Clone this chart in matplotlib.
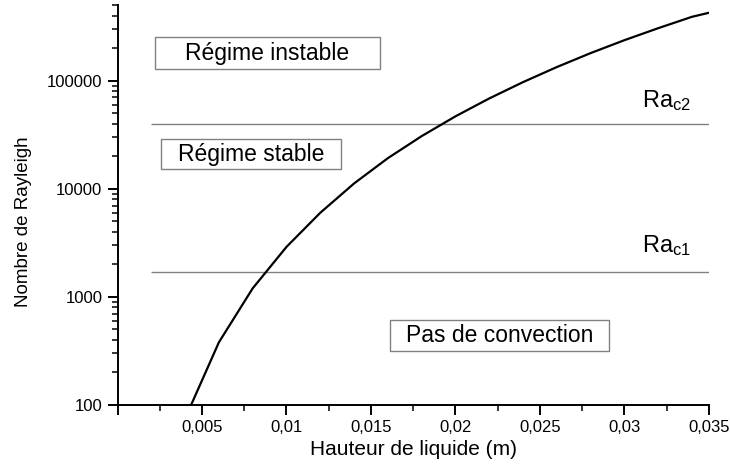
import matplotlib
matplotlib.use("Agg")
import matplotlib.pyplot as plt
from matplotlib.patches import Rectangle
from matplotlib.ticker import FixedLocator, FuncFormatter, LogLocator, NullFormatter

plt.rcParams['font.family'] = ['Liberation Sans', 'DejaVu Sans']
plt.rcParams['mathtext.default'] = 'regular'

# hauteur de liquide (m) et nombre de Rayleigh
hauteur = [0.004, 0.006, 0.008, 0.010, 0.012, 0.014, 0.016, 0.018, 0.020,
           0.022, 0.024, 0.026, 0.028, 0.030, 0.032, 0.034, 0.035]
rayleigh = [75, 380, 1200, 2900, 6000, 11200, 19200, 30700, 46800,
            68500, 97000, 133700, 180000, 237000, 306000, 390000, 425000]

# seuils critiques
ra_c1 = 1708
ra_c2 = 40000
seuil_debut = 0.002

x_ticks = [0, 0.005, 0.01, 0.015, 0.02, 0.025, 0.03, 0.035]

fig = plt.figure(figsize=(7.3, 4.69), dpi=100)
ax = fig.add_axes([0.161, 0.1365, 0.81, 0.8525])

ax.plot(hauteur, rayleigh, color='black', lw=1.6, zorder=3)
ax.hlines([ra_c1, ra_c2], seuil_debut, x_ticks[-1], colors='#808080', lw=1.0)

ax.set_yscale('log')
ax.set_xlim(0, 0.035)
ax.set_ylim(100, 5e5)

ax.xaxis.set_major_locator(FixedLocator(x_ticks))
ax.xaxis.set_minor_locator(FixedLocator([0.0025 + 0.005 * i for i in range(7)]))
ax.xaxis.set_major_formatter(FuncFormatter(
    lambda v, p: '' if v == 0 else ('%g' % v).replace('.', ',')))
ax.yaxis.set_major_locator(LogLocator(base=10))
ax.yaxis.set_minor_locator(LogLocator(base=10, subs=range(2, 10)))
ax.yaxis.set_major_formatter(FuncFormatter(lambda v, p: '%d' % v))
ax.yaxis.set_minor_formatter(NullFormatter())

for s in ['top', 'right']:
    ax.spines[s].set_visible(False)
for s in ['left', 'bottom']:
    ax.spines[s].set_linewidth(1.4)
ax.tick_params(which='major', length=7, width=1.4, labelsize=12, pad=4)
ax.tick_params(which='minor', length=4, width=1.1)

ax.set_xlabel('Hauteur de liquide (m)', fontsize=15)
ax.xaxis.set_label_coords(0.5, -0.088)
ax.set_ylabel('Nombre de Rayleigh', fontsize=13.5)
ax.yaxis.set_label_coords(-0.145, 0.4575)

# boites de texte (coordonnees axes)
boites = [('Régime instable', 0.0634, 0.84, 0.3804, 0.08),
          ('Régime stable', 0.0735, 0.59, 0.3043, 0.075),
          ('Pas de convection', 0.4607, 0.135, 0.3703, 0.0775)]
for txt, x0, y0, w, h in boites:
    ax.add_patch(Rectangle((x0, y0), w, h, transform=ax.transAxes,
                           facecolor='white', edgecolor='#808080', lw=1.0, zorder=4))
    ax.text(x0 + w / 2, y0 + h / 2, txt, transform=ax.transAxes,
            ha='center', va='center', fontsize=16.5, zorder=5)

ax.text(0.887, 0.745, 'Ra$_{c2}$', transform=ax.transAxes,
        fontsize=17, ha='left', va='baseline')
ax.text(0.887, 0.3825, 'Ra$_{c1}$', transform=ax.transAxes,
        fontsize=17, ha='left', va='baseline')

fig.savefig('out.png', dpi=100)
